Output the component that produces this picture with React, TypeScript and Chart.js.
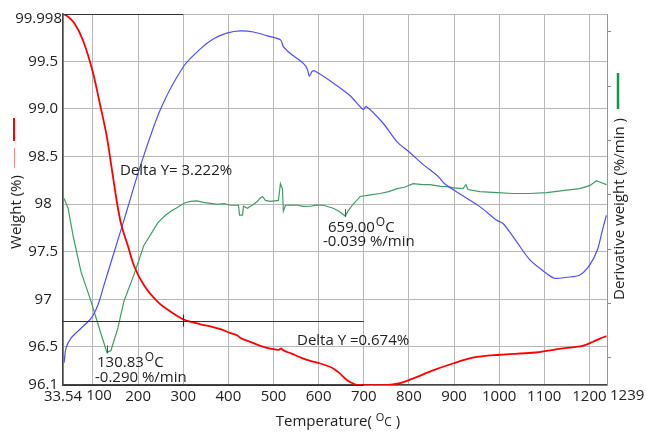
import React, { useEffect, useRef } from "react";
import { Chart, registerables } from "chart.js";

Chart.register(...registerables);

// ---- Data ----
const xTicks = [33.54, 100, 200, 300, 400, 500, 600, 700, 800, 900, 1000, 1100, 1200, 1239];
const yTicks = [96.1, 96.5, 97, 97.5, 98, 98.5, 99, 99.5, 99.998];
const yTickLabels = ["96.1", "96.5", "97", "97.5", "98", "98.5", "99.0", "99.5", "99.998"];
const derivTicks = [-0.3, -0.2, -0.1, 0, 0.1, 0.2, 0.3];

// Weight (%) — red
const weightTemp = [33.54, 44.8, 58.1, 77.9, 100, 115.5, 131, 142, 153, 161.9, 177.3, 190.6, 212.7, 243.6, 272.3, 301, 320, 338.6, 360, 382.8, 405, 420, 425, 427, 450, 471.1, 495, 512, 517, 520, 540, 559.5, 580, 603.7, 620, 632.4, 645, 663.3, 675, 685.4, 698.7, 720, 742.9, 760, 780.4, 810, 853.3, 897.5, 941.7, 1001.3, 1074.2, 1133.9, 1170, 1184.7, 1206.8, 1222, 1237.7];
const weightVal = [99.998, 99.97, 99.905, 99.72, 99.38, 99.05, 98.7, 98.36, 98.02, 97.799, 97.562, 97.356, 97.15, 96.974, 96.87, 96.788, 96.76, 96.737, 96.715, 96.686, 96.645, 96.62, 96.6, 96.593, 96.55, 96.511, 96.48, 96.468, 96.485, 96.47, 96.43, 96.39, 96.355, 96.326, 96.3, 96.274, 96.23, 96.15, 96.118, 96.1, 96.098, 96.098, 96.098, 96.105, 96.119, 96.17, 96.253, 96.326, 96.387, 96.418, 96.439, 96.48, 96.5, 96.511, 96.552, 96.585, 96.614];

// Third trace — blue (no scale shown, plotted in weight-axis units)
const blueTemp = [35.97, 40.4, 51.4, 73.5, 95.6, 111.1, 124.3, 146.4, 168.5, 179.6, 206.1, 250.3, 301, 338.6, 367.3, 398.2, 427, 455.7, 486.6, 515.3, 521.9, 537.4, 566.1, 575, 579.4, 586, 592.6, 632.4, 669.9, 698.7, 705.3, 742.9, 773.8, 802.5, 831.2, 864.4, 879.9, 919.6, 957.2, 994.7, 1008, 1030, 1067.6, 1096.3, 1122.8, 1149.3, 1178, 1200.1, 1217.8, 1228.8, 1237.7];
const blueVal = [96.335, 96.49, 96.593, 96.696, 96.799, 96.943, 97.149, 97.489, 97.83, 98.005, 98.418, 99.005, 99.449, 99.634, 99.737, 99.799, 99.82, 99.809, 99.768, 99.727, 99.655, 99.583, 99.479, 99.418, 99.345, 99.397, 99.397, 99.273, 99.139, 98.995, 99.026, 98.85, 98.655, 98.541, 98.418, 98.294, 98.211, 98.088, 97.974, 97.83, 97.799, 97.665, 97.417, 97.304, 97.222, 97.232, 97.253, 97.356, 97.521, 97.727, 97.882];

// Derivative weight (%/min) — green
const derivTemp = [35.97, 44.8, 55.8, 73.5, 95.6, 117.7, 130.83, 139.8, 155.2, 168.5, 190.6, 212.7, 243.6, 260, 272.3, 285, 294.4, 305, 316.5, 330, 345.2, 360, 376.1, 390, 404.8, 422.5, 424.7, 431.3, 433.6, 442.4, 447, 453.4, 464.5, 470, 475.5, 482.2, 493.2, 510.9, 515.3, 519.7, 521.9, 526.4, 540, 552.9, 565, 581.6, 595, 610.3, 632.4, 645, 659, 665, 674.6, 692.3, 715, 736.5, 755, 774, 790, 809.4, 830, 846.9, 873.4, 884.5, 900, 919.8, 926.4, 930.9, 957.4, 995, 1030.3, 1067.9, 1105.4, 1140.8, 1178.3, 1200.4, 1215.9, 1226.9, 1237.9];
const derivVal = [-0.0065, -0.0246, -0.0751, -0.1419, -0.1961, -0.2557, -0.29, -0.2864, -0.2449, -0.1961, -0.1473, -0.0932, -0.0516, -0.038, -0.03, -0.024, -0.0191, -0.014, -0.0119, -0.011, -0.0137, -0.0155, -0.0173, -0.016, -0.0191, -0.0191, -0.0372, -0.0372, -0.0209, -0.0246, -0.022, -0.0191, -0.0119, -0.006, -0.0029, -0.0101, -0.0119, -0.0101, 0.0206, 0.0116, -0.03, -0.0191, -0.019, -0.0191, -0.021, -0.0209, -0.019, -0.0191, -0.0246, -0.03, -0.039, -0.03, -0.0191, -0.0029, 0.0, 0.0025, 0.006, 0.0116, 0.014, 0.0206, 0.019, 0.0188, 0.0152, 0.0152, 0.013, 0.0116, 0.0188, 0.0098, 0.0061, 0.0043, 0.0025, 0.0025, 0.0043, 0.0079, 0.0116, 0.017, 0.026, 0.0224, 0.0188];

const FONT = "'Open Sans', sans-serif";
const TXT = "#222";

const annotPlugin = {
  id: "annot",
  afterDraw(chart: any) {
    const ctx = chart.ctx as CanvasRenderingContext2D;
    const x = chart.scales.x;
    const y = chart.scales.y;
    const yr = chart.scales.yR;
    const ca = chart.chartArea;
    ctx.save();

    // Delta lines
    ctx.strokeStyle = "#333";
    ctx.lineWidth = 1.2;
    const hline = (v: number, t0: number, t1: number) => {
      const py = Math.round(y.getPixelForValue(v)) + 0.5;
      ctx.beginPath();
      ctx.moveTo(x.getPixelForValue(t0), py);
      ctx.lineTo(x.getPixelForValue(t1), py);
      ctx.stroke();
    };
    hline(99.998, 33.54, 300);
    hline(96.776, 33.54, 700);
    hline(96.1, 33.54, 700);
    // cursor mark at 300
    const cx = Math.round(x.getPixelForValue(300)) + 0.5;
    const cy = y.getPixelForValue(96.776);
    ctx.beginPath();
    ctx.moveTo(cx, cy - 6);
    ctx.lineTo(cx, cy + 6);
    ctx.stroke();

    // peak markers on derivative
    ctx.strokeStyle = "#555";
    ctx.lineWidth = 1;
    const mark = (t: number, v: number) => {
      const px = Math.round(x.getPixelForValue(t)) + 0.5;
      const py = yr.getPixelForValue(v);
      ctx.beginPath();
      ctx.moveTo(px, py - 7);
      ctx.lineTo(px, py + 1);
      ctx.stroke();
    };
    mark(130.83, -0.29);
    mark(659, -0.039);

    // Text annotations
    ctx.fillStyle = TXT;
    ctx.textBaseline = "middle";
    ctx.textAlign = "left";
    ctx.font = `15px ${FONT}`;
    ctx.fillText("Delta Y= 3.222%", 120, 171);
    ctx.fillText("Delta Y =0.674%", 297, 341);

    const tempLabel = (num: string, lx: number, ly: number) => {
      ctx.font = `15px ${FONT}`;
      ctx.fillText(num, lx, ly);
      const w = ctx.measureText(num).width;
      ctx.font = `12px ${FONT}`;
      ctx.fillText("O", lx + w + 1, ly - 5);
      const w2 = ctx.measureText("O").width;
      ctx.font = `15px ${FONT}`;
      ctx.fillText("C", lx + w + w2 + 1, ly);
    };
    tempLabel("130.83", 97, 363);
    ctx.fillText("-0.290 %/min", 95, 378);
    tempLabel("659.00", 328, 228);
    ctx.fillText("-0.039 %/min", 323, 242);

    // Custom tick labels
    ctx.font = `15px ${FONT}`;
    ctx.textAlign = "right";
    ctx.fillText("99.998", 62, y.getPixelForValue(99.998) + 5);
    ctx.textAlign = "center";
    ctx.fillText("100", x.getPixelForValue(100) + 6, 396);
    ctx.textAlign = "left";
    ctx.fillText("1239", 610, 396);

    // Axis titles
    ctx.font = `15px ${FONT}`;
    const xt1 = "Temperature( ";
    const xt2 = " )";
    const w1 = ctx.measureText(xt1).width;
    ctx.font = `11px ${FONT}`;
    const wo = ctx.measureText("O").width;
    ctx.font = `12px ${FONT}`;
    const wc = ctx.measureText("C").width;
    ctx.font = `15px ${FONT}`;
    const w3 = ctx.measureText(xt2).width;
    const total = w1 + wo + wc + w3;
    let sx = (ca.left + ca.right) / 2 - total / 2 + 3;
    ctx.textAlign = "left";
    ctx.fillText(xt1, sx, 422);
    sx += w1;
    ctx.font = `11px ${FONT}`;
    ctx.fillText("O", sx, 418);
    sx += wo;
    ctx.font = `12px ${FONT}`;
    ctx.fillText("C", sx, 423);
    sx += wc;
    ctx.font = `15px ${FONT}`;
    ctx.fillText(xt2, sx, 422);

    ctx.textAlign = "center";
    ctx.save();
    ctx.translate(17, 212);
    ctx.rotate(-Math.PI / 2);
    ctx.fillText("Weight (%)", 0, 0);
    ctx.restore();
    ctx.save();
    ctx.translate(620, 209);
    ctx.rotate(-Math.PI / 2);
    ctx.fillText("Derivative weight (%/min )", 0, 0);
    ctx.restore();

    // Legend marks
    ctx.lineWidth = 2;
    ctx.strokeStyle = "#ff0000";
    ctx.beginPath();
    ctx.moveTo(14, 118);
    ctx.lineTo(14, 141);
    ctx.stroke();
    ctx.lineWidth = 1;
    ctx.strokeStyle = "#ff8a8a";
    ctx.beginPath();
    ctx.moveTo(14.5, 148);
    ctx.lineTo(14.5, 168);
    ctx.stroke();
    ctx.lineWidth = 2.5;
    ctx.strokeStyle = "#119944";
    ctx.beginPath();
    ctx.moveTo(618, 73);
    ctx.lineTo(618, 109);
    ctx.stroke();

    ctx.restore();
  },
};

export default function App() {
  const ref = useRef<HTMLCanvasElement | null>(null);
  useEffect(() => {
    if (!ref.current) return;
    const chart = new Chart(ref.current, {
      type: "line",
      data: {
        datasets: [
          {
            label: "Weight",
            data: weightTemp.map((t, i) => ({ x: t, y: weightVal[i] })),
            borderColor: "#ff0000",
            borderWidth: 1.8,
            pointRadius: 0,
            cubicInterpolationMode: "monotone",
            yAxisID: "y",
          },
          {
            label: "Trace",
            data: blueTemp.map((t, i) => ({ x: t, y: blueVal[i] })),
            borderColor: "#4d4dff",
            borderWidth: 1.2,
            pointRadius: 0,
            tension: 0.3,
            yAxisID: "yB",
          },
          {
            label: "Derivative weight",
            data: derivTemp.map((t, i) => ({ x: t, y: derivVal[i] })),
            borderColor: "#3d9c63",
            borderWidth: 1.2,
            pointRadius: 0,
            tension: 0,
            yAxisID: "yR",
          },
        ],
      },
      options: {
        animation: false,
        responsive: false,
        layout: { padding: { top: 7, left: 0, right: 0, bottom: 0 } },
        plugins: { legend: { display: false }, tooltip: { enabled: false } },
        scales: {
          x: {
            type: "linear",
            min: 33.54,
            max: 1239,
            afterBuildTicks: (s: any) => {
              s.ticks = xTicks.map((v) => ({ value: v }));
            },
            afterFit: (s: any) => {
              s.height = 49;
            },
            ticks: {
              autoSkip: false,
              maxRotation: 0,
              padding: 3,
              color: TXT,
              font: { family: FONT, size: 15 },
              callback: (v: any) => {
                if (v === 1239 || v === 100) return "";
                if (v === 33.54) return "33.54";
                return String(v);
              },
            },
            grid: { color: "#b8b8b8", drawTicks: false, lineWidth: 1 },
            border: { color: "#444", width: 1.5 },
          },
          y: {
            position: "left",
            min: 96.1,
            max: 99.998,
            afterBuildTicks: (s: any) => {
              s.ticks = yTicks.map((v) => ({ value: v }));
            },
            afterFit: (s: any) => {
              s.width = 63;
            },
            ticks: {
              crossAlign: "center",
              padding: 5,
              color: TXT,
              font: { family: FONT, size: 15 },
              callback: (v: any) => {
                const i = yTicks.indexOf(v);
                if (v === 99.998) return "";
                return i >= 0 ? yTickLabels[i] : "";
              },
            },
            grid: { color: "#b8b8b8", drawTicks: false },
            border: { color: "#444", width: 1.5 },
          },
          yR: {
            position: "right",
            min: -0.35,
            max: 0.333,
            afterBuildTicks: (s: any) => {
              s.ticks = derivTicks.map((v) => ({ value: v }));
            },
            afterFit: (s: any) => {
              s.width = 39;
            },
            ticks: { callback: () => "", padding: 0 },
            grid: { drawOnChartArea: false, drawTicks: true, tickLength: 4, color: "#888" },
            border: { color: "#999", width: 1 },
          },
          yB: {
            display: false,
            min: 96.1,
            max: 99.998,
          },
        },
      },
      plugins: [annotPlugin],
    });
    return () => chart.destroy();
  }, []);
  return (
    <div style={{ position: "fixed", left: 0, top: 0, width: 646, height: 434, background: "#fff" }}>
      <canvas ref={ref} width={646} height={434} style={{ width: 646, height: 434 }} />
    </div>
  );
}
